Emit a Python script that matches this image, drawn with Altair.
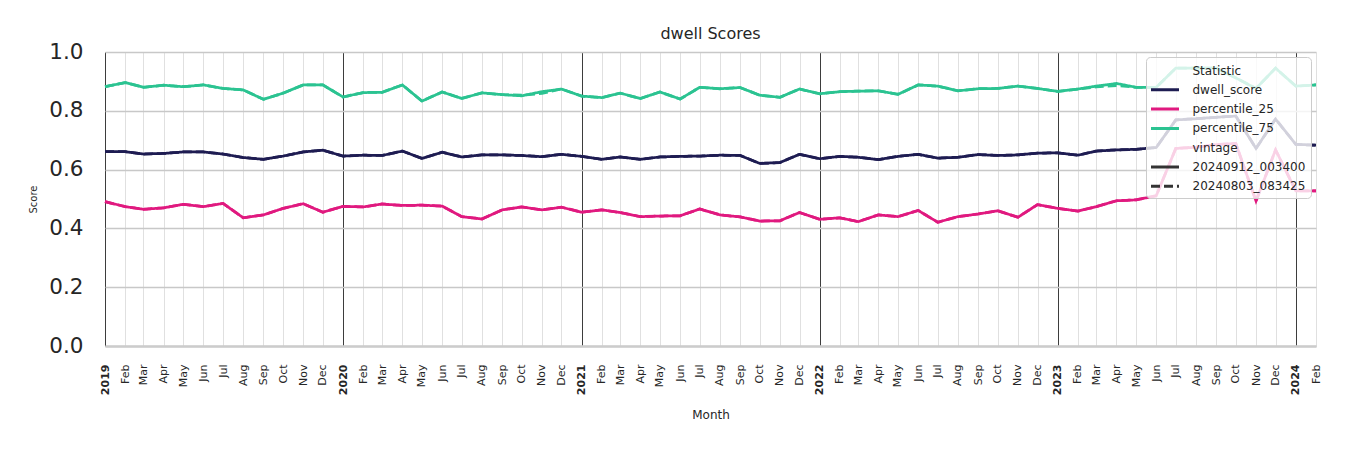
import altair as alt
import pandas as pd

# ---------------- data ----------------
months = [
    "2019-01-01", "2019-02-01", "2019-03-01", "2019-04-01", "2019-05-01", "2019-06-01",
    "2019-07-01", "2019-08-01", "2019-09-01", "2019-10-01", "2019-11-01", "2019-12-01",
    "2020-01-01", "2020-02-01", "2020-03-01", "2020-04-01", "2020-05-01", "2020-06-01",
    "2020-07-01", "2020-08-01", "2020-09-01", "2020-10-01", "2020-11-01", "2020-12-01",
    "2021-01-01", "2021-02-01", "2021-03-01", "2021-04-01", "2021-05-01", "2021-06-01",
    "2021-07-01", "2021-08-01", "2021-09-01", "2021-10-01", "2021-11-01", "2021-12-01",
    "2022-01-01", "2022-02-01", "2022-03-01", "2022-04-01", "2022-05-01", "2022-06-01",
    "2022-07-01", "2022-08-01", "2022-09-01", "2022-10-01", "2022-11-01", "2022-12-01",
    "2023-01-01", "2023-02-01", "2023-03-01", "2023-04-01", "2023-05-01", "2023-06-01",
    "2023-07-01", "2023-08-01", "2023-09-01", "2023-10-01", "2023-11-01", "2023-12-01",
    "2024-01-01", "2024-02-01",
]

dwell_score = [
    0.661, 0.661, 0.653, 0.655, 0.660, 0.660, 0.653, 0.641, 0.635, 0.646, 0.660, 0.666,
    0.646, 0.649, 0.648, 0.663, 0.638, 0.659, 0.643, 0.650, 0.650, 0.648, 0.644, 0.652,
    0.645, 0.635, 0.643, 0.635, 0.643, 0.645, 0.646, 0.649, 0.648, 0.621, 0.624, 0.652,
    0.637, 0.645, 0.642, 0.634, 0.645, 0.652, 0.639, 0.642, 0.651, 0.648, 0.650, 0.656,
    0.657, 0.649, 0.663, 0.667, 0.669, 0.675, 0.769, 0.773, 0.778, 0.782, 0.672, 0.772,
    0.686, 0.683,
]

percentile_25 = [
    0.491, 0.474, 0.465, 0.470, 0.482, 0.474, 0.485, 0.436, 0.446, 0.468, 0.484, 0.455,
    0.475, 0.473, 0.483, 0.478, 0.479, 0.476, 0.440, 0.432, 0.463, 0.473, 0.463, 0.472,
    0.455, 0.463, 0.454, 0.440, 0.442, 0.443, 0.466, 0.446, 0.439, 0.425, 0.426, 0.454,
    0.431, 0.436, 0.423, 0.446, 0.440, 0.461, 0.421, 0.440, 0.449, 0.460, 0.438, 0.481,
    0.468, 0.459, 0.474, 0.494, 0.497, 0.511, 0.672, 0.676, 0.685, 0.689, 0.493, 0.667,
    0.528, 0.528,
]

percentile_75 = [
    0.882, 0.896, 0.880, 0.887, 0.882, 0.888, 0.876, 0.871, 0.839, 0.860, 0.888, 0.888,
    0.847, 0.862, 0.863, 0.888, 0.833, 0.864, 0.842, 0.861, 0.855, 0.851, 0.865, 0.874,
    0.850, 0.845, 0.860, 0.842, 0.864, 0.840, 0.880, 0.875, 0.879, 0.853, 0.846, 0.874,
    0.858, 0.865, 0.867, 0.868, 0.856, 0.888, 0.884, 0.868, 0.875, 0.876, 0.884, 0.876,
    0.866, 0.874, 0.884, 0.893, 0.880, 0.880, 0.945, 0.945, 0.945, 0.912, 0.876, 0.945,
    0.884, 0.888,
]

# older vintage (dashed) - nearly identical, small differences
percentile_75_old = [
    0.882, 0.896, 0.880, 0.887, 0.882, 0.888, 0.876, 0.871, 0.839, 0.860, 0.888, 0.888,
    0.847, 0.862, 0.863, 0.888, 0.833, 0.864, 0.842, 0.861, 0.855, 0.853, 0.859, 0.874,
    0.850, 0.845, 0.860, 0.842, 0.864, 0.840, 0.880, 0.875, 0.879, 0.853, 0.846, 0.874,
    0.858, 0.865, 0.867, 0.868, 0.856, 0.888, 0.884, 0.868, 0.875, 0.876, 0.884, 0.876,
    0.866, 0.874, 0.881, 0.886, 0.880, 0.880, 0.945, 0.945, 0.945, 0.912, 0.876, 0.945,
    0.884, 0.888,
]

stats = ["dwell_score", "percentile_25", "percentile_75"]
vintages = ["20240912_003400", "20240803_083425"]

series = {
    ("dwell_score", vintages[0]): dwell_score,
    ("percentile_25", vintages[0]): percentile_25,
    ("percentile_75", vintages[0]): percentile_75,
    ("dwell_score", vintages[1]): dwell_score,
    ("percentile_25", vintages[1]): percentile_25,
    ("percentile_75", vintages[1]): percentile_75_old,
}

rows = []
for (stat, vint), vals in series.items():
    for d, v in zip(months, vals):
        rows.append({"date": d, "stat": stat, "vintage": vint, "value": v})
df = pd.DataFrame(rows)

# ---------------- style ----------------
FONT = "DejaVu Sans"
TXT = "#262626"
NAVY = "#1e1c52"
PINK = "#e0197f"
GREEN = "#2bc391"

legend_keys = ["Statistic", "dwell_score", "percentile_25", "percentile_75",
               "vintage", "20240912_003400", "20240803_083425"]
color_range = ["rgba(0,0,0,0)", NAVY, PINK, GREEN, "rgba(0,0,0,0)", "#333333", "#333333"]
dash_range = [[1, 0], [1, 0], [1, 0], [1, 0], [1, 0], [1, 0], [9, 4]]

color_scale = alt.Scale(domain=legend_keys, range=color_range)
dash_scale = alt.Scale(domain=legend_keys, range=dash_range)

is_jan = "utcmonth(datum.value) === 0"

x_enc = alt.X(
    "date:T",
    scale=alt.Scale(
        type="utc",
        domain=[alt.DateTime(year=2019, month=1, date=1, utc=True),
                alt.DateTime(year=2024, month=2, date=1, utc=True)],
        nice=False,
    ),
    axis=alt.Axis(
        title="Month",
        titleFont=FONT, titleFontSize=12, titleFontWeight="normal", titleColor=TXT,
        titlePadding=15,
        tickCount={"interval": "month", "step": 1},
        labelExpr=f"{is_jan} ? utcFormat(datum.value, '%Y') : utcFormat(datum.value, '%b')",
        labelAngle=270, labelAlign="right", labelBaseline="middle",
        labelPadding=18, labelFont=FONT, labelFontSize=11, labelColor=TXT,
        labelFontWeight={"condition": {"test": is_jan, "value": "bold"}, "value": "normal"},
        labelFlush=False, labelOverlap=False, labelBound=False,
        ticks=False, tickSize=0,
        grid=True,
        gridColor={"condition": {"test": is_jan, "value": "#3d3d3d"}, "value": "#e0e0e0"},
        gridWidth=1,
        domain=True, domainColor="#cccccc", domainWidth=2.5,
    ),
)

y_enc = alt.Y(
    "value:Q",
    scale=alt.Scale(domain=[0, 1], nice=False),
    axis=alt.Axis(
        title="Score",
        titleFont=FONT, titleFontSize=10, titleFontWeight="normal", titleColor=TXT,
        titlePadding=10,
        values=[0, 0.2, 0.4, 0.6, 0.8, 1.0], format=".1f",
        labelFont=FONT, labelFontSize=21.5, labelColor=TXT, labelPadding=22,
        ticks=False, tickSize=0, domain=False,
        grid=True, gridColor="#c8c8c8", gridWidth=1.5,
    ),
)

legend = alt.Legend(
    title=None, orient="top-right", offset=5, padding=5,
    fillColor="rgba(255,255,255,0.8)", strokeColor="#cccccc", cornerRadius=4,
    labelFont=FONT, labelFontSize=12, labelColor=TXT, labelOffset=19, labelLimit=300,
    symbolType="M-2,0L2,0", symbolSize=196, symbolStrokeWidth=3, symbolOffset=5.5,
    rowPadding=4.3,
)

chart = alt.Chart(df).mark_line(strokeWidth=2.75).encode(
    x=x_enc,
    y=y_enc,
    color=alt.Color("stat:N", scale=color_scale, legend=legend),
    strokeDash=alt.StrokeDash("vintage:N", scale=dash_scale, legend=legend),
).properties(
    width=1211,
    height=294,
    autosize=alt.AutoSizeParams(type="none"),
    padding={"left": 105, "top": 52, "right": 34, "bottom": 104},
    title=alt.TitleParams(
        "dwell Scores", font=FONT, fontSize=16, fontWeight="normal", color=TXT,
        anchor="middle", frame="group", baseline="bottom", offset=10, dy=27,
    ),
    background="white",
).configure_view(stroke=None)

chart.save("out.html", embed_options={"renderer": "svg", "actions": False})
